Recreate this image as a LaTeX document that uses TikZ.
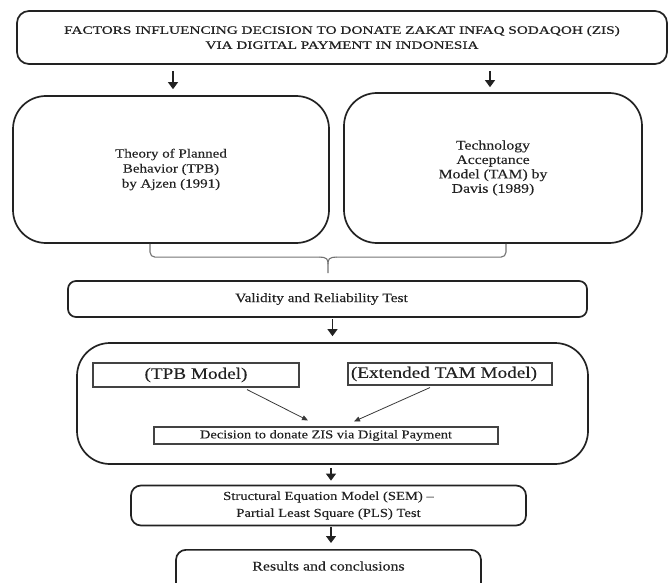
\documentclass[tikz,border=0pt]{standalone}
\usepackage{fontspec}
\setmainfont{Liberation Serif}
\newfontfamily\titlefont[FakeStretch=1.35,FakeBold=0.7]{Liberation Serif}
\newfontfamily\bodyfont[FakeStretch=1.2,FakeBold=0.25]{Liberation Serif}
\usetikzlibrary{arrows.meta,calc}
\definecolor{ink}{HTML}{222222}
\begin{document}
\begin{tikzpicture}[x=1pt,y=-1pt,
  box/.style={draw=ink, line width=1.7pt, rounded corners=#1, inner sep=0pt,
    align=center, text=ink},
  box/.default=10pt,
  plainbox/.style={draw=ink!85, line width=1.1pt, inner sep=0pt, align=center, text=ink},
  arr/.style={draw=ink, line width=1.3pt, -{Triangle[width=10pt,length=7pt]}},
  thinarr/.style={draw=ink!90, line width=0.8pt, -{Triangle[width=5pt,length=6pt]}},
  bracket/.style={draw=black!55, line width=1.1pt},
  lbl/.style={text=ink, align=center, inner sep=0pt},
]
\clip (0,0) rectangle (669,583);

% title
\node[box=12pt, minimum width=650pt, minimum height=53pt,
  font=\titlefont\fontsize{11.3}{15}\selectfont] (title) at (342,37.5)
  {FACTORS INFLUENCING DECISION TO DONATE ZAKAT INFAQ SODAQOH (ZIS)\\
   VIA DIGITAL PAYMENT IN INDONESIA};

% the two theories
\node[box=33pt, minimum width=316pt, minimum height=147pt,
  font=\bodyfont\fontsize{12.5}{15}\selectfont] (tpb) at (171,169.5)
  {Theory of Planned\\Behavior (TPB)\\by Ajzen (1991)};
\node[box=33pt, minimum width=298pt, minimum height=150pt,
  font=\bodyfont\fontsize{13.1}{14.4}\selectfont] (tam) at (493,168)
  {Technology\\Acceptance\\Model (TAM) by\\Davis (1989)};

% validity test
\node[box=8pt, minimum width=519pt, minimum height=36pt,
  font=\bodyfont\fontsize{12.8}{15}\selectfont] (valid) at (327.5,299)
  {Validity and Reliability Test\hspace*{12pt}};

% models
\node[box=33pt, minimum width=511pt, minimum height=121pt] (model) at (332.5,403.5) {};
\node[plainbox, minimum width=206pt, minimum height=24pt,
  font=\bodyfont\fontsize{16}{18}\selectfont] (tpbm) at (196,375) {(TPB Model)};
\node[plainbox, minimum width=204pt, minimum height=22pt,
  font=\bodyfont\fontsize{16}{18}\selectfont] (ext) at (450,374)
  {(Extended TAM Model)\hspace*{12pt}};
\node[plainbox, minimum width=344pt, minimum height=17pt,
  font=\bodyfont\fontsize{12}{14}\selectfont] (dec) at (326,435.5)
  {Decision to donate ZIS via Digital Payment};

% SEM-PLS
\node[box=10pt, minimum width=395pt, minimum height=40pt,
  font=\bodyfont\fontsize{12.2}{17}\selectfont] (sem) at (328.5,505.5)
  {Structural Equation Model (SEM) \textendash\\Partial Least Square (PLS) Test};

% results
\node[box=10pt, minimum width=305pt, minimum height=60pt, anchor=north] (res) at (328.5,549) {};
\node[lbl, font=\bodyfont\fontsize{13.2}{15}\selectfont] (restext) at (328.5,566) {Results and conclusions};

% arrows from the title
\draw[arr] ($(title.south -| tpb.north)+(2,6)$) -- ($(tpb.north)+(2,-6)$);
\draw[arr] ($(title.south -| tam.north)+(-3,6)$) -- ($(tam.north)+(-3,-5)$);

% bracket joining both theories
\coordinate (bl) at ($(tpb.south)+(-21,0)$);
\coordinate (br) at ($(tam.south)+(13,0)$);
\coordinate (tip) at ($(valid.north)+(0.5,-7)$);
\coordinate (mid) at ($(tip)+(0,-16)$);
\draw[bracket, rounded corners=5pt] (bl) -- (bl |- mid) -- ($(mid)+(-8,0)$);
\draw[bracket] ($(mid)+(-8.5,0)$) .. controls ($(mid)+(-1,0)$) and ($(mid)+(0,2)$) .. ($(mid)+(0,7)$) -- (tip);
\draw[bracket, rounded corners=5pt] (br) -- (br |- mid) -- ($(mid)+(8,0)$);
\draw[bracket] ($(mid)+(8.5,0)$) .. controls ($(mid)+(1,0)$) and ($(mid)+(0,2)$) .. ($(mid)+(0,7)$);

% main flow
\draw[arr] ($(valid.south -| model.north)+(0,1)$) -- ($(model.north)+(0,-6)$);
\draw[thinarr] ($(tpbm.south)+(51,2)$) -- ($(dec.north)+(-18,-6)$);
\draw[thinarr] ($(ext.south)+(-20,2)$) -- ($(dec.north)+(28,-5)$);
\draw[arr] ($(model.south)+(-1.5,3)$) -- ($(sem.north)+(2.5,-4)$);
\draw[arr] ($(sem.south)+(2.5,1)$) -- ($(res.north)+(2.5,-6)$);
\end{tikzpicture}
\end{document}
